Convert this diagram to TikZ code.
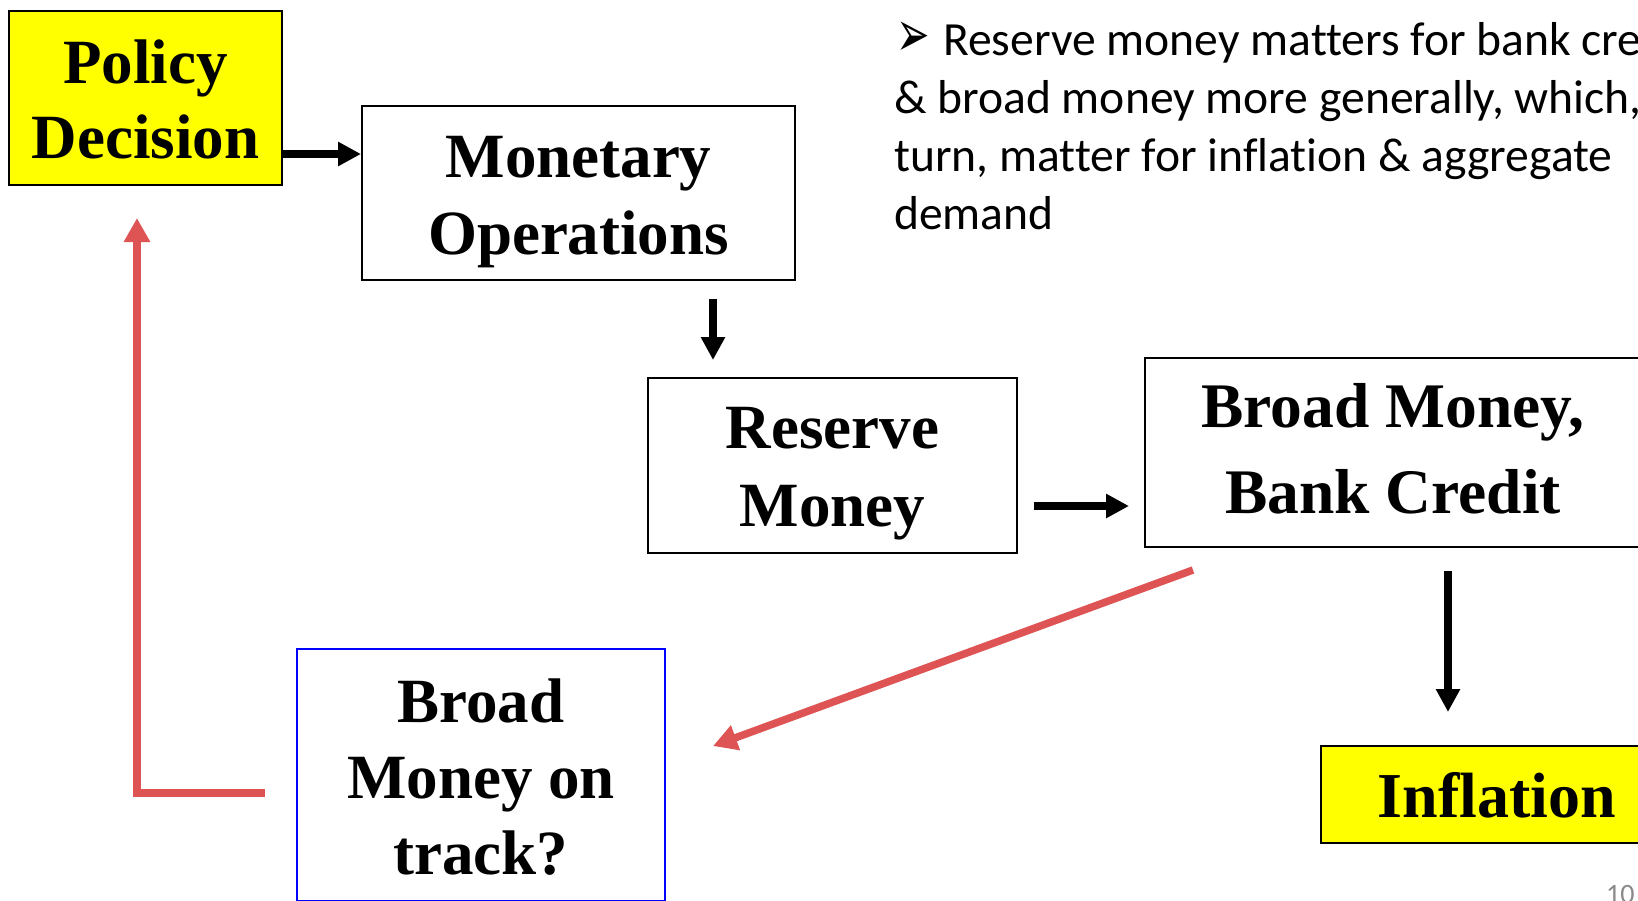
\documentclass[tikz,border=0pt]{standalone}
\usepackage{fontspec}
\usepackage{graphicx}
\setmainfont{Liberation Serif}
\newfontfamily\calib[Ligatures={NoCommon}]{Carlito}
\newfontfamily\dejavu{DejaVu Sans}
\usetikzlibrary{arrows.meta}
\definecolor{ppyellow}{RGB}{255,255,0}
\definecolor{ppred}{RGB}{222,83,83}
\definecolor{ppblue}{RGB}{0,0,255}
\definecolor{pgray}{RGB}{137,137,137}
\newcommand\topst{\rule{0pt}{61pt}}
\newcommand\botst[1]{\rule[-#1pt]{0pt}{#1pt}}
\begin{document}
\begin{tikzpicture}[x=1pt,y=-1pt,
  box/.style={draw=black, line width=2pt, rectangle, inner sep=0pt, align=center},
  blk/.style={draw=black, line width=8pt, -{Triangle[width=23pt,length=23pt]}},
  redarr/.style={draw=ppred, line width=7.5pt, -{Triangle[width=25pt,length=24pt]}}]
\useasboundingbox (0,0) rectangle (1638,900);
\fill[white] (0,0) rectangle (1638,900);
\clip (0,0) rectangle (1638,900);

% boxes
\node[box, fill=ppyellow, minimum width=273pt, minimum height=174pt, font=\fontsize{63}{75}\selectfont\bfseries] (pol) at (145.5,97.5) {\topst Policy\\Decision\botst{14}};
\node[box, minimum width=433pt, minimum height=174pt, font=\fontsize{63}{77}\selectfont\bfseries] (mon) at (578.5,193) {\topst Monetary\\Operations\botst{16}};
\node[box, minimum width=369pt, minimum height=175pt, font=\fontsize{63}{78}\selectfont\bfseries] (res) at (832.5,465.5) {\topst Reserve\\Money\botst{17}};
\node[box, minimum width=496pt, minimum height=189pt, font=\fontsize{63.5}{86}\selectfont\bfseries] (bm) at (1393,452.5) {\topst Broad Money,\\Bank Credit\botst{25}};
\node[box, fill=ppyellow, minimum width=352pt, minimum height=97pt, font=\fontsize{64}{76}\selectfont\bfseries] (inf) at (1497,794.5) {\topst Inflation\botst{15}};
\node[box, draw=ppblue, minimum width=368pt, minimum height=252pt, font=\fontsize{63}{76}\selectfont\bfseries] (trk) at (481,775) {\topst Broad\\Money on\\track?\botst{15}};

% note text
\node[anchor=north west, inner sep=0pt, align=left, font=\calib\fontsize{47.6}{58}\selectfont] (note) at (894,10.5)
  {\rule{0pt}{45pt}\makebox[49pt][l]{\hspace{2pt}\raisebox{-1pt}{\scalebox{0.8}[1.3]{\dejavu\fontsize{50}{50}\selectfont ➢}}}Reserve money matters for bank credit\\
   \& broad money more generally, which, in\\
   turn, matter for inflation \& aggregate\\
   demand};

% page number
\node[anchor=base west, inner sep=0pt, font=\calib\fontsize{28}{28}\selectfont, text=pgray] (pg) at (1606,903) {10};

% black arrows
\draw[blk] (pol.east |- 0,154) -- (mon.west |- 0,154);
\draw[blk, shorten <=18pt, shorten >=17pt] (713,0 |- mon.south) -- (713,0 |- res.north);
\draw[blk, shorten <=16pt, shorten >=15pt] (res.east |- 0,506) -- (bm.west |- 0,506);
\draw[blk, shorten <=23pt, shorten >=33pt] (1448,0 |- bm.south) -- (1448,0 |- inf.north);

% red arrows
\coordinate (d1) at (1193,570);
\coordinate (d2) at (713,746);
\draw[redarr] (d1) -- (d2);
\coordinate (fb) at (265,793);
\coordinate (tip) at (137,218);
\draw[redarr] (fb) -| (tip);
\end{tikzpicture}
\end{document}
